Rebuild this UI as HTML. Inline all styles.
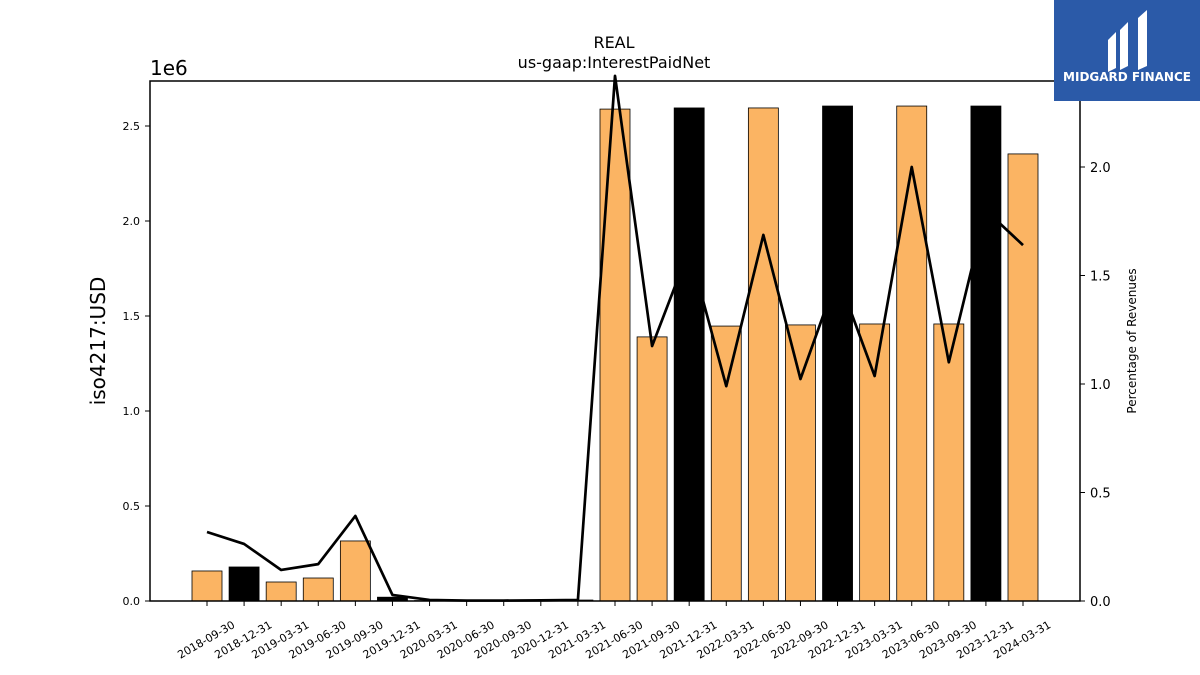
<!DOCTYPE html>
<html><head><meta charset="utf-8"><style>
body{margin:0;background:#fff;}
svg{display:block;font-family:"DejaVu Sans","Liberation Sans",sans-serif;}
</style></head><body>
<svg id="chart" width="1200" height="675">
<g id="bars"></g>
<g id="line"></g>
<g id="axes"></g>
<text x="614" y="48" font-size="16" text-anchor="middle">REAL</text>
<text x="614" y="68" font-size="16" text-anchor="middle">us-gaap:InterestPaidNet</text>
<text x="150" y="75" font-size="20">1e6</text>
<text transform="translate(105,341) rotate(-90)" font-size="20" text-anchor="middle">iso4217:USD</text>
<text transform="translate(1136,341) rotate(-90)" font-size="12" text-anchor="middle">Percentage of Revenues</text>
<g>
<rect x="1054" y="0" width="146" height="101" fill="#2b5aa8"/>
<path d="M1108 40 L1116 32 L1116 68 L1108 72 Z M1120 30 L1128 22 L1128 66 L1120 70 Z M1138 18 L1147 10 L1147 66 L1138 70 Z" fill="#fff"/>
<text x="1127" y="81" font-size="12" font-weight="bold" fill="#fff" text-anchor="middle">MIDGARD FINANCE</text>
</g>
</svg>
<script>
const categories=["2018-09-30","2018-12-31","2019-03-31","2019-06-30","2019-09-30","2019-12-31","2020-03-31","2020-06-30","2020-09-30","2020-12-31","2021-03-31","2021-06-30","2021-09-30","2021-12-31","2022-03-31","2022-06-30","2022-09-30","2022-12-31","2023-03-31","2023-06-30","2023-09-30","2023-12-31","2024-03-31"];
const barValues=[0.158,0.179,0.1,0.121,0.316,0.02,0.002,0.001,0.001,0.002,0.005,2.589,1.39,2.595,1.447,2.595,1.453,2.605,1.458,2.605,1.458,2.605,2.353];
const ratioValues=[0.318,0.263,0.143,0.17,0.392,0.028,0.005,0.002,0.002,0.003,0.005,2.42,1.175,1.62,0.99,1.687,1.023,1.5,1.037,2.0,1.1,1.8,1.64];
const leftTicks=[0,0.5,1.0,1.5,2.0,2.5];
const rightTicks=[0,0.5,1.0,1.5,2.0];
const NS="http://www.w3.org/2000/svg";
const L=150,R=1080,T=81,B=601;
const yL=v=>B-v*190;
const yR=v=>B-v*217;
const xC=i=>207+i*(1023-207)/22;
function mk(tag,attrs,parent){const e=document.createElementNS(NS,tag);for(const k in attrs)e.setAttribute(k,attrs[k]);parent.appendChild(e);return e;}
const bars=document.getElementById('bars'),line=document.getElementById('line'),axes=document.getElementById('axes');
categories.forEach((c,i)=>{
 const black=c.endsWith("12-31");
 const y=yL(barValues[i]);
 const r=mk('rect',{x:xC(i)-15,y:y,width:30,height:B-y,fill:black?'#000':'#fbb463',stroke:'#000','stroke-width':0.8},bars);
 
 
});
const pts=ratioValues.map((v,i)=>xC(i)+','+Math.max(yR(v),70)).join(' ');
const pl=mk('polyline',{points:pts,fill:'none',stroke:'#000','stroke-width':2.7,'stroke-linejoin':'round'},line);


const fr=mk('rect',{x:L,y:T,width:R-L,height:B-T,fill:'none',stroke:'#000','stroke-width':1.5},axes);


leftTicks.forEach(t=>{
 const y=yL(t*1);
 mk('line',{x1:L-5,x2:L,y1:y,y2:y,stroke:'#000'},axes);
 const tx=mk('text',{x:L-10,y:y+4,'font-size':11,'text-anchor':'end'},axes);
 tx.textContent=t.toFixed(1);
 
 
});
rightTicks.forEach(t=>{
 const y=yR(t);
 mk('line',{x1:R,x2:R+5,y1:y,y2:y,stroke:'#000'},axes);
 const tx=mk('text',{x:R+10,y:y+5,'font-size':13},axes);
 tx.textContent=t.toFixed(1);
 
 
});
categories.forEach((c,i)=>{
 const x=xC(i);
 mk('line',{x1:x,x2:x,y1:B,y2:B+5,stroke:'#000'},axes);
 const tx=mk('text',{'font-size':11,'text-anchor':'middle',transform:`translate(${x+1},${B+42}) rotate(-30)`},axes);
 tx.textContent=c;
 
 
});
</script>
</body></html>
